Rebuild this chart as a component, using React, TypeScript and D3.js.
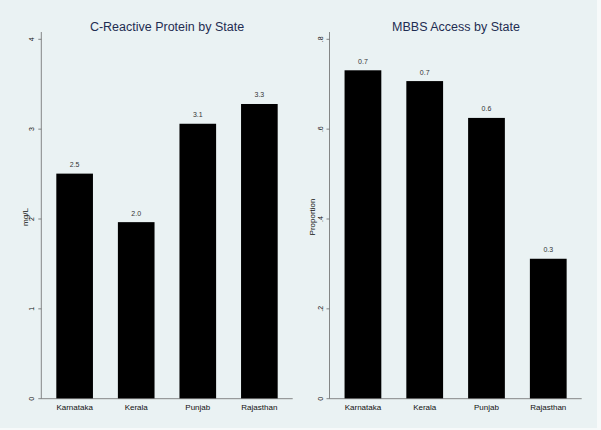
import React from "react";
import * as d3 from "d3";

const states = ["Karnataka", "Kerala", "Punjab", "Rajasthan"];
const crpValues = [2.505, 1.965, 3.06, 3.28];
const crpLabels = ["2.5", "2.0", "3.1", "3.3"];
const crpTicks = [0, 1, 2, 3, 4];
const crpTickLabels = ["0", "1", "2", "3", "4"];
const mbbsValues = [0.731, 0.707, 0.625, 0.3115];
const mbbsLabels = ["0.7", "0.7", "0.6", "0.3"];
const mbbsTicks = [0, 0.2, 0.4, 0.6, 0.8];
const mbbsTickLabels = ["0", ".2", ".4", ".6", ".8"];

const FONT = "'Liberation Sans', Arial, sans-serif";

type PanelProps = {
  title: string;
  yTitle: string;
  values: number[];
  labels: string[];
  ticks: number[];
  tickLabels: string[];
  yMax: number;
  x0: number;
  x1: number;
  titleX: number;
  yTitleX: number;
};

function Panel(p: PanelProps) {
  const yBase = 398.7;
  const yTopTick = 39.3;
  const y = d3.scaleLinear().domain([0, p.yMax]).range([yBase, yTopTick]);
  const x = d3
    .scaleBand()
    .domain(states)
    .range([p.x0 + 2.7, p.x1 - 2.7])
    .paddingInner(0.405)
    .paddingOuter(0.2);
  return (
    <g>
      <text x={p.titleX} y={30.5} textAnchor="middle" fontFamily={FONT} fontSize={12.5} fill="#1f2d52">
        {p.title}
      </text>
      {states.map((s, i) => (
        <g key={s}>
          <rect x={x(s)} y={y(p.values[i])} width={x.bandwidth()} height={yBase - y(p.values[i])} fill="#000" />
          <text x={(x(s) as number) + x.bandwidth() / 2} y={y(p.values[i]) - 6.5} textAnchor="middle" fontFamily={FONT} fontSize={7} fill="#333">
            {p.labels[i]}
          </text>
          <text x={(x(s) as number) + x.bandwidth() / 2} y={409.5} textAnchor="middle" fontFamily={FONT} fontSize={8} fill="#111">
            {s}
          </text>
        </g>
      ))}
      <line x1={p.x0} x2={p.x0} y1={32} y2={yBase} stroke="#6a6a6a" strokeWidth={0.8} />
      <line x1={p.x0} x2={p.x1} y1={yBase} y2={yBase} stroke="#6a6a6a" strokeWidth={0.8} />
      {p.ticks.map((t, i) => (
        <g key={i}>
          <line x1={p.x0 - 3} x2={p.x0} y1={y(t)} y2={y(t)} stroke="#6a6a6a" strokeWidth={0.8} />
          <text
            transform={`translate(${p.x0 - 7},${y(t)}) rotate(-90)`}
            textAnchor="middle"
            fontFamily={FONT}
            fontSize={7}
            fill="#111"
          >
            {p.tickLabels[i]}
          </text>
        </g>
      ))}
      <text
        transform={`translate(${p.yTitleX},${217}) rotate(-90)`}
        textAnchor="middle"
        fontFamily={FONT}
        fontSize={8}
        fill="#111"
      >
        {p.yTitle}
      </text>
    </g>
  );
}

export default function App() {
  return (
    <svg width={601} height={430} style={{ position: "absolute", left: 0, top: 0 }}>
      <rect x={0} y={0} width={601} height={430} fill="#f7fafa" />
      <rect x={0} y={0} width={597} height={428} fill="#eaf2f3" />
      <Panel
        title="C-Reactive Protein by State"
        yTitle="mg/L"
        values={crpValues}
        labels={crpLabels}
        ticks={crpTicks}
        tickLabels={crpTickLabels}
        yMax={4}
        x0={41.3}
        x1={292.7}
        titleX={167}
        yTitleX={27.5}
      />
      <Panel
        title="MBBS Access by State"
        yTitle="Proportion"
        values={mbbsValues}
        labels={mbbsLabels}
        ticks={mbbsTicks}
        tickLabels={mbbsTickLabels}
        yMax={0.8}
        x0={329.5}
        x1={581.7}
        titleX={456}
        yTitleX={315}
      />
    </svg>
  );
}
